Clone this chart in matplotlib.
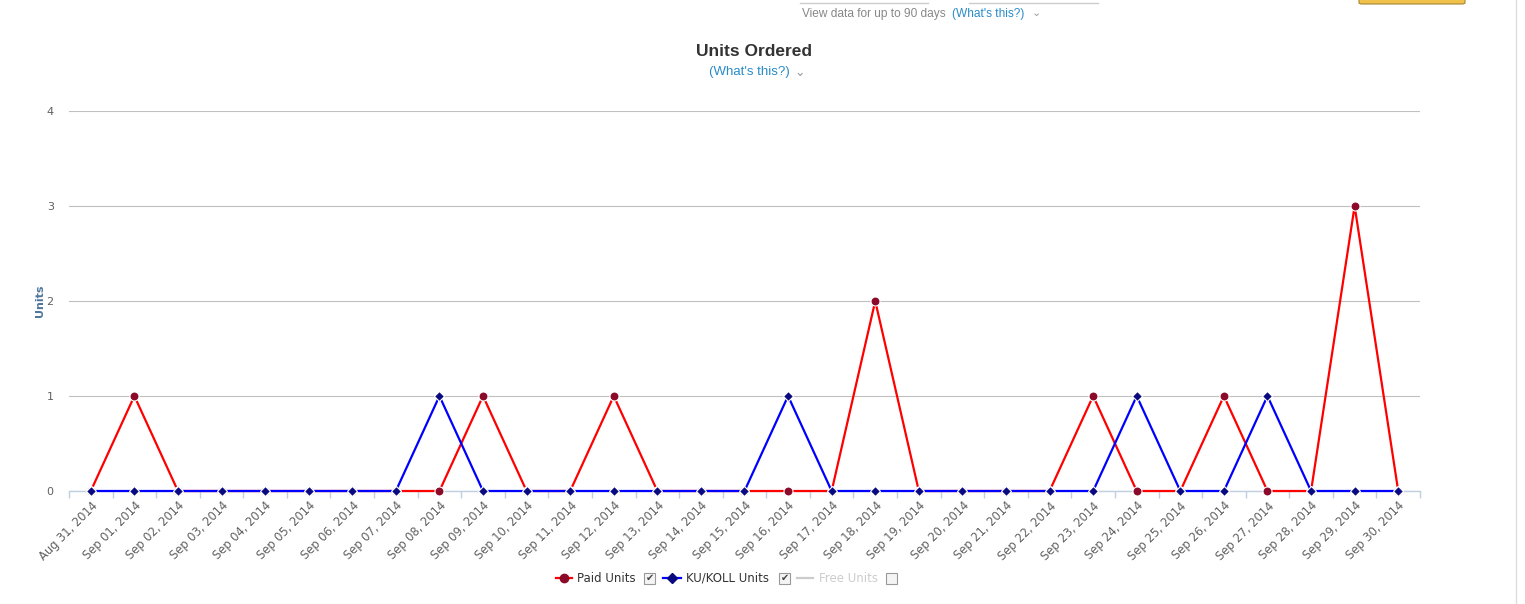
import numpy as np
import matplotlib.pyplot as plt
import matplotlib.transforms as mtransforms
from matplotlib.lines import Line2D
from matplotlib.patches import Rectangle, FancyBboxPatch

# data
dates = ["Aug 31, 2014"] + ["Sep %02d, 2014" % d for d in range(1, 31)]
paid_units = [0, 1, 0, 0, 0, 0, 0, 0, 0, 1, 0, 0, 1, 0, 0, 0,
              0, 0, 2, 0, 0, 0, 0, 1, 0, 0, 1, 0, 0, 3, 0]
ku_units = [0, 0, 0, 0, 0, 0, 0, 0, 1, 0, 0, 0, 0, 0, 0, 0,
            1, 0, 0, 0, 0, 0, 0, 0, 1, 0, 0, 1, 0, 0, 0]
y_ticks = [0, 1, 2, 3, 4]

W, H = 1525, 604
fig = plt.figure(figsize=(W / 100, H / 100), dpi=100)
ax = fig.add_axes([69 / W, 1 - 491 / H, (1420 - 69) / W, (491 - 111) / H])

x = np.arange(len(dates))
ax.plot(x, paid_units, color="#ff0000", lw=1.6, marker="o", ms=6.5,
        mfc="#8b0a2a", mec="white", mew=0.8, zorder=3, clip_on=False)
ax.plot(x, ku_units, color="#0000ff", lw=1.6, marker="D", ms=5.5,
        mfc="#0a0a80", mec="white", mew=0.8, zorder=4, clip_on=False)

ax.set_xlim(-0.5, len(dates) - 0.5)
ax.set_ylim(0, 4)
ax.set_yticks(y_ticks)
ax.set_yticklabels([str(v) for v in y_ticks])
ax.grid(axis="y", color="#c0c0c0", lw=0.8)
ax.set_axisbelow(True)
for s in ["top", "right", "left"]:
    ax.spines[s].set_visible(False)
ax.spines["bottom"].set_color("#c0d0e0")
ax.spines["bottom"].set_linewidth(1)
ax.spines["bottom"].set_zorder(2)

ax.set_xticks(x)
ax.set_xticklabels(dates, rotation=45, ha="right", va="top",
                   rotation_mode="anchor", fontsize=8.3, color="#606060")
shift = mtransforms.ScaledTranslation(-5 / 100, 0, fig.dpi_scale_trans)
for lab in ax.get_xticklabels():
    lab.set_transform(lab.get_transform() + shift)
ax.set_xticks(np.arange(-0.5, len(dates), 1), minor=True)
ax.tick_params(axis="x", which="major", length=0, pad=6)
ax.tick_params(axis="x", which="minor", length=5, color="#c0d0e0", width=1)
ax.tick_params(axis="y", length=0, pad=11, labelsize=8, labelcolor="#606060")

fig.text(40 / W, 1 - 301 / H, "Units", rotation=90, ha="center", va="center",
         fontsize=8, fontweight="bold", color="#4d759e")

# title
fig.text(754 / W, 1 - 51 / H, "Units Ordered", ha="center", va="center",
         fontsize=12.5, fontweight="bold", color="#333333",
         family="Liberation Sans")
fig.text(749 / W, 1 - 72 / H, "(What's this?)", ha="center", va="center",
         fontsize=9.5, color="#2a8bc8", family="Liberation Sans")
fig.text(800 / W, 1 - 72 / H, "\u2304", ha="center", va="center",
         fontsize=9, color="#999999")

# header bits at the top
fig.text(802 / W, 1 - 14 / H, "View data for up to 90 days", ha="left",
         va="center", fontsize=8.6, color="#888888", family="Liberation Sans")
fig.text(952 / W, 1 - 14 / H, "(What's this?)", ha="left", va="center",
         fontsize=8.6, color="#2a8bc8", family="Liberation Sans")
fig.text(1036 / W, 1 - 13 / H, "\u2304", ha="center", va="center",
         fontsize=8, color="#999999")
for x0, x1 in [(800, 928), (969, 1098)]:
    fig.add_artist(Line2D([x0 / W, x1 / W], [1 - 3 / H, 1 - 3 / H],
                          color="#cccccc", lw=1))
fig.add_artist(FancyBboxPatch((1359 / W, 1 - 4 / H), 106 / W, 10 / H,
                              boxstyle="round,pad=0,rounding_size=0.002",
                              fc="#f0c14b", ec="#a88734", lw=0.8,
                              transform=fig.transFigure))
fig.add_artist(Line2D([1516 / W, 1516 / W], [0, 1], color="#dddddd", lw=1))

# legend
ly = 1 - 578 / H


def checkbox(px):
    fig.add_artist(Rectangle((px / W, ly - 5.5 / H), 11 / W, 11 / H,
                             fc="#f4f4f4", ec="#999999", lw=0.8,
                             transform=fig.transFigure))


fig.add_artist(Line2D([556 / W, 572 / W], [ly, ly], color="#ff0000", lw=1.6))
fig.add_artist(Line2D([564 / W], [ly], marker="o", ms=6, mfc="#8b0a2a",
                      mec="#8b0a2a", lw=0))
fig.text(577 / W, ly, "Paid Units", ha="left", va="center", fontsize=8.5,
         color="#333333")
checkbox(644)
fig.text(649.5 / W, ly, "\u2714", ha="center", va="center", fontsize=7,
         color="#444444")

fig.add_artist(Line2D([663 / W, 681 / W], [ly, ly], color="#0000ff", lw=1.6))
fig.add_artist(Line2D([672 / W], [ly], marker="D", ms=5, mfc="#0a0a80",
                      mec="#0a0a80", lw=0))
fig.text(686 / W, ly, "KU/KOLL Units", ha="left", va="center", fontsize=8.5,
         color="#333333")
checkbox(779)
fig.text(784.5 / W, ly, "\u2714", ha="center", va="center", fontsize=7,
         color="#444444")

fig.add_artist(Line2D([797 / W, 813 / W], [ly, ly], color="#cccccc", lw=1.6))
fig.text(819 / W, ly, "Free Units", ha="left", va="center", fontsize=8.5,
         color="#cccccc")
checkbox(886)

fig.savefig("out.png", dpi=100)
